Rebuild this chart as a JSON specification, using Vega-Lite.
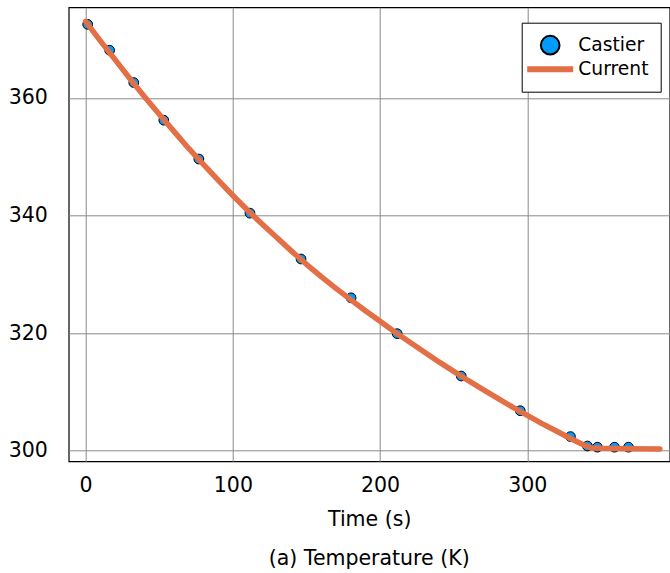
{
  "$schema": "https://vega.github.io/schema/vega-lite/v6.json",
  "autosize": {"type": "none"},
  "padding": {"left": 68.7, "top": 7.3, "right": 0.3, "bottom": 111.7},
  "width": 601,
  "height": 454,
  "background": "white",
  "config": {
    "font": "DejaVu Sans",
    "view": {"stroke": "black", "strokeWidth": 1.2},
    "axis": {
      "domain": false,
      "ticks": false,
      "tickSize": 0,
      "gridColor": "#8a8a8a",
      "gridWidth": 1,
      "labelFont": "DejaVu Sans",
      "labelFontSize": 20.5,
      "labelColor": "black",
      "titleFont": "DejaVu Sans",
      "titleFontSize": 20.5,
      "titleFontWeight": "normal",
      "titleColor": "black"
    },
    "legend": {
      "orient": "none",
      "legendX": 453,
      "legendY": 15.4,
      "symbolSize": 350,
      "symbolOffset": 6,
      "symbolStrokeWidth": 2,
      "symbolOpacity": 1,
      "labelOffset": 17.6,
      "padding": 12,
      "rowPadding": -3.4,
      "strokeColor": "black",
      "fillColor": "white",
      "labelFont": "DejaVu Sans",
      "labelFontSize": 18.7,
      "labelColor": "black"
    }
  },
  "title": {
    "text": "(a) Temperature (K)",
    "orient": "bottom",
    "anchor": "middle",
    "font": "DejaVu Sans",
    "fontSize": 20.5,
    "fontWeight": "normal",
    "color": "black",
    "offset": 19
  },
  "datasets": {
    "points": [
      {"t": 1.4, "T": 372.5, "series": "Castier"},
      {"t": 16.3, "T": 368.1, "series": "Castier"},
      {"t": 32.7, "T": 362.6, "series": "Castier"},
      {"t": 53.1, "T": 356.2, "series": "Castier"},
      {"t": 76.9, "T": 349.6, "series": "Castier"},
      {"t": 111.6, "T": 340.4, "series": "Castier"},
      {"t": 146.3, "T": 332.6, "series": "Castier"},
      {"t": 180.3, "T": 326.0, "series": "Castier"},
      {"t": 211.6, "T": 319.9, "series": "Castier"},
      {"t": 255.1, "T": 312.7, "series": "Castier"},
      {"t": 295.2, "T": 306.8, "series": "Castier"},
      {"t": 329.3, "T": 302.4, "series": "Castier"},
      {"t": 340.8, "T": 300.8, "series": "Castier"},
      {"t": 347.6, "T": 300.6, "series": "Castier"},
      {"t": 359.2, "T": 300.6, "series": "Castier"},
      {"t": 368.7, "T": 300.6, "series": "Castier"}
    ],
    "curve": [
      {"t": 0, "T": 373.0, "series": "Current"},
      {"t": 10, "T": 369.7, "series": "Current"},
      {"t": 20, "T": 366.5, "series": "Current"},
      {"t": 30, "T": 363.3, "series": "Current"},
      {"t": 40, "T": 360.2, "series": "Current"},
      {"t": 50, "T": 357.2, "series": "Current"},
      {"t": 60, "T": 354.3, "series": "Current"},
      {"t": 70, "T": 351.4, "series": "Current"},
      {"t": 80, "T": 348.7, "series": "Current"},
      {"t": 90, "T": 346.0, "series": "Current"},
      {"t": 100, "T": 343.4, "series": "Current"},
      {"t": 110, "T": 340.9, "series": "Current"},
      {"t": 120, "T": 338.5, "series": "Current"},
      {"t": 130, "T": 336.2, "series": "Current"},
      {"t": 140, "T": 333.9, "series": "Current"},
      {"t": 150, "T": 331.7, "series": "Current"},
      {"t": 160, "T": 329.6, "series": "Current"},
      {"t": 170, "T": 327.6, "series": "Current"},
      {"t": 180, "T": 325.7, "series": "Current"},
      {"t": 190, "T": 323.8, "series": "Current"},
      {"t": 200, "T": 322.0, "series": "Current"},
      {"t": 210, "T": 320.2, "series": "Current"},
      {"t": 220, "T": 318.5, "series": "Current"},
      {"t": 230, "T": 316.8, "series": "Current"},
      {"t": 240, "T": 315.1, "series": "Current"},
      {"t": 250, "T": 313.5, "series": "Current"},
      {"t": 260, "T": 311.9, "series": "Current"},
      {"t": 270, "T": 310.4, "series": "Current"},
      {"t": 280, "T": 308.9, "series": "Current"},
      {"t": 290, "T": 307.4, "series": "Current"},
      {"t": 300, "T": 306.0, "series": "Current"},
      {"t": 310, "T": 304.6, "series": "Current"},
      {"t": 320, "T": 303.3, "series": "Current"},
      {"t": 330, "T": 302.0, "series": "Current"},
      {"t": 338, "T": 301.0, "series": "Current"},
      {"t": 343, "T": 300.5, "series": "Current"},
      {"t": 350, "T": 300.4, "series": "Current"},
      {"t": 370, "T": 300.35, "series": "Current"},
      {"t": 390, "T": 300.3, "series": "Current"}
    ]
  },
  "encoding": {
    "x": {
      "field": "t",
      "type": "quantitative",
      "scale": {"domain": [-11.5, 396.7], "nice": false, "zero": false},
      "axis": {"values": [0, 100, 200, 300], "title": "Time (s)", "labelPadding": 14.5, "titlePadding": 13}
    },
    "y": {
      "field": "T",
      "type": "quantitative",
      "scale": {"domain": [298.2, 375.4], "nice": false, "zero": false},
      "axis": {"values": [300, 320, 340, 360], "title": null, "labelPadding": 21.4}
    }
  },
  "layer": [
    {
      "data": {"name": "points"},
      "mark": {"type": "point", "filled": true, "size": 95, "strokeWidth": 1, "opacity": 1, "fillOpacity": 1, "strokeOpacity": 1},
      "encoding": {
        "fill": {
          "field": "series",
          "type": "nominal",
          "scale": {"domain": ["Castier", "Current"], "range": ["#009AFA", "#E26F46"]},
          "legend": {"title": null}
        },
        "stroke": {
          "field": "series",
          "type": "nominal",
          "scale": {"domain": ["Castier", "Current"], "range": ["#000000", "#E26F46"]},
          "legend": {"title": null}
        },
        "shape": {
          "field": "series",
          "type": "nominal",
          "scale": {"domain": ["Castier", "Current"], "range": ["circle", "M-2.35,-0.22H2.35V0.22H-2.35Z"]},
          "legend": {"title": null}
        }
      }
    },
    {
      "data": {"name": "curve"},
      "mark": {"type": "line", "stroke": "#E26F46", "strokeWidth": 5.5, "strokeCap": "round", "strokeJoin": "round", "opacity": 1}
    }
  ]
}
